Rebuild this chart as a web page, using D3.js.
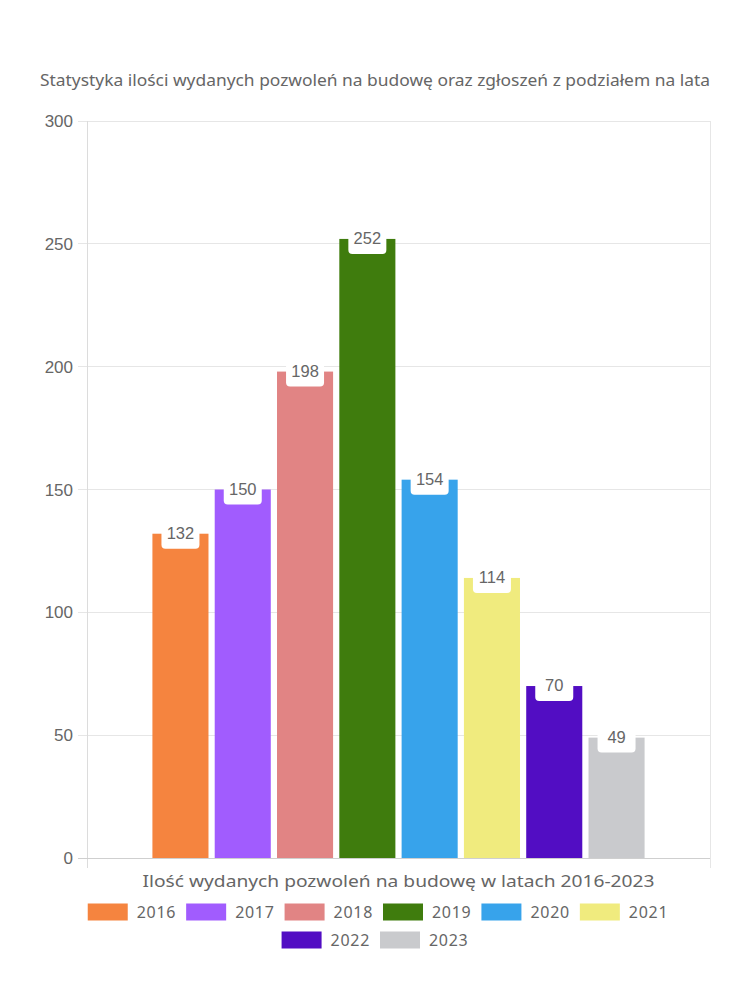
<!DOCTYPE html>
<html><head><meta charset="utf-8">
<script src="https://cdn.jsdelivr.net/npm/d3@7"></script>
<style>body{margin:0;background:#fff}svg{display:block}</style>
</head><body>
<svg id="c" width="750" height="1000"></svg>
<script>
const title = "Statystyka ilości wydanych pozwoleń na budowę oraz zgłoszeń z podziałem na lata";
const xLabel = "Ilość wydanych pozwoleń na budowę w latach 2016-2023";
const categories = [""];
const years = ["2016","2017","2018","2019","2020","2021","2022","2023"];
const values = [132,150,198,252,154,114,70,49];
const colors = ["#f5843f","#a15cfe","#e18484","#3f7c0d","#37a3eb","#f0eb7e","#520dc3","#c9cacd"];
const yTicks = [0,50,100,150,200,250,300];

const svg = d3.select("#c");
const L = 87, R = 710, T = 121, B = 858;
const fontMain = "'Noto Sans', sans-serif";
const fontTick = "'Liberation Sans', Arial, sans-serif";

const y = d3.scaleLinear().domain([0,300]).range([B,T]);
const x0 = d3.scaleBand().domain(categories).range([L,R]).paddingInner(0).paddingOuter(0.125);
const x1 = d3.scaleBand().domain(years).range([0,x0.bandwidth()]).paddingInner(0.1).paddingOuter(0.05);

// title
svg.append("text").attr("x",375).attr("y",86).attr("text-anchor","middle")
  .attr("font-family",fontMain).attr("font-size",15.5).attr("fill","#666")
  .attr("textLength",670).attr("lengthAdjust","spacingAndGlyphs").text(title);

// gridlines
svg.append("g").selectAll("line").data(yTicks.filter(d=>d>0)).join("line")
  .attr("x1",L-9).attr("x2",R).attr("y1",d=>y(d)).attr("y2",d=>y(d))
  .attr("stroke","#e6e6e6").attr("stroke-width",1).attr("shape-rendering","crispEdges");
svg.append("line").attr("x1",L).attr("x2",L).attr("y1",T).attr("y2",B+10).attr("stroke","#dcdcdc").attr("shape-rendering","crispEdges");
svg.append("line").attr("x1",R).attr("x2",R).attr("y1",T).attr("y2",B+10).attr("stroke","#e6e6e6").attr("shape-rendering","crispEdges");
svg.append("line").attr("x1",L-9).attr("x2",R).attr("y1",B).attr("y2",B).attr("stroke","#cfcfcf").attr("shape-rendering","crispEdges");

// tick labels
svg.append("g").selectAll("text").data(yTicks).join("text")
  .attr("x",L-14).attr("y",d=>y(d)).attr("dy","0.36em").attr("text-anchor","end")
  .attr("font-family",fontTick).attr("font-size",17).attr("fill","#666").text(d=>d);

// bars
const g = svg.append("g").attr("transform",`translate(${x0("")},0)`);
g.selectAll("rect").data(years).join("rect")
  .attr("x",d=>x1(d)).attr("width",x1.bandwidth())
  .attr("y",(d,i)=>y(values[i])).attr("height",(d,i)=>B-y(values[i]))
  .attr("fill",(d,i)=>colors[i]);

// data labels
const lab = g.append("g").selectAll("g").data(years).join("g")
  .attr("transform",(d,i)=>`translate(${x1(d)+x1.bandwidth()/2},${y(values[i])})`);
lab.append("rect").attr("x",-19).attr("y",-16).attr("width",38).attr("height",31).attr("rx",4).attr("fill","#fff");
lab.append("text").attr("text-anchor","middle").attr("y",5).attr("font-family",fontTick)
  .attr("font-size",16.5).attr("fill","#666").text((d,i)=>values[i]);

// x label
svg.append("text").attr("x",(L+R)/2).attr("y",887).attr("text-anchor","middle")
  .attr("font-family",fontMain).attr("font-size",17).attr("fill","#666")
  .attr("textLength",512).attr("lengthAdjust","spacingAndGlyphs").text(xLabel);

// legend
const boxW = 40, boxH = 17, fs = 16, pad = 10, maxW = 650;
const tmp = svg.append("text").attr("font-family",fontMain).attr("font-size",fs).attr("letter-spacing","0.7px");
const widths = years.map(t=>{tmp.text(t); return tmp.node().getComputedTextLength();});
tmp.remove();
const rows = []; let cur = [], cw = 0;
years.forEach((t,i)=>{
  const w = boxW + fs/2 + widths[i] + 1;
  if (cur.length && cw + pad + w > maxW) { rows.push({items:cur,w:cw}); cur=[]; cw=0; }
  cw += (cur.length?pad:0) + w; cur.push({t,i,w});
});
rows.push({items:cur,w:cw});
const leg = svg.append("g");
rows.forEach((r,ri)=>{
  let xx = (ri===0?378:375) - r.w/2;
  const cy = 912 + ri*28;
  r.items.forEach(it=>{
    leg.append("rect").attr("x",xx).attr("y",cy-boxH/2).attr("width",boxW).attr("height",boxH).attr("fill",colors[it.i]);
    leg.append("text").attr("x",xx+boxW+fs/2+1).attr("y",cy).attr("dy","0.36em")
      .attr("font-family",fontMain).attr("font-size",fs).attr("letter-spacing","0.7px").attr("fill","#666").text(it.t);
    xx += it.w + pad;
  });
});
</script>
</body></html>
